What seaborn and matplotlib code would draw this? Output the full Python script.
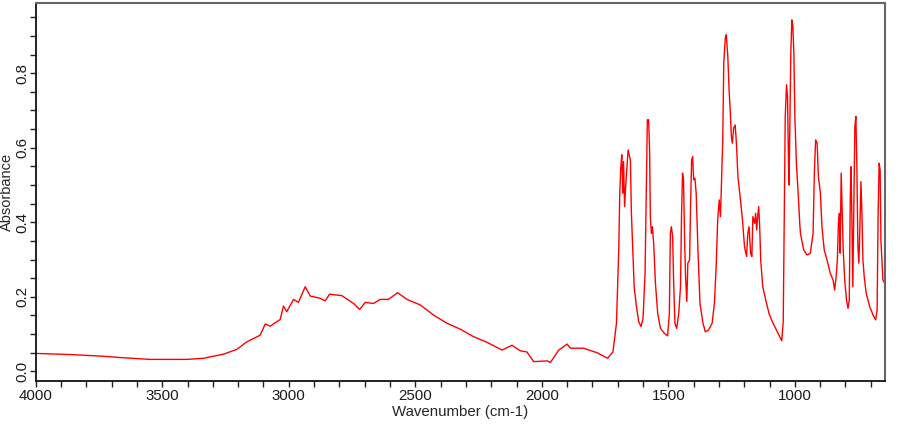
import pandas as pd
import seaborn as sns
import matplotlib.pyplot as plt
from matplotlib.ticker import MultipleLocator

# IR spectrum
wavenumber = [
    4000, 3864, 3746, 3667, 3548, 3403, 3337, 3258, 3205, 3166, 3113, 3093, 3074, 3034,
    3021, 3008, 2981, 2962, 2935, 2915, 2876, 2856, 2839, 2790, 2744, 2720, 2698, 2665,
    2639, 2606, 2570, 2533, 2480, 2428, 2375, 2322, 2270, 2217, 2157, 2118, 2085, 2059,
    2032, 1979, 1966, 1933, 1900, 1887, 1835, 1782, 1740, 1719, 1705, 1696, 1692, 1688,
    1684, 1680, 1677, 1673, 1667, 1659, 1650, 1646, 1641, 1635, 1626, 1617, 1608, 1600,
    1592, 1588, 1583, 1578, 1574, 1571, 1567, 1563, 1558, 1551, 1542, 1531, 1516, 1503,
    1496, 1492, 1488, 1483, 1479, 1474, 1467, 1459, 1452, 1448, 1444, 1440, 1436, 1432,
    1427, 1423, 1416, 1412, 1408, 1404, 1400, 1395, 1390, 1383, 1375, 1363, 1354, 1341,
    1327, 1318, 1311, 1305, 1299, 1294, 1290, 1285, 1281, 1275, 1271, 1265, 1260, 1255,
    1251, 1247, 1242, 1236, 1231, 1225, 1215, 1207, 1199, 1191, 1186, 1181, 1175, 1170,
    1166, 1159, 1155, 1151, 1147, 1143, 1139, 1135, 1127, 1115, 1102, 1089, 1076, 1063,
    1052, 1046, 1042, 1038, 1033, 1029, 1025, 1023, 1020, 1016, 1012, 1008, 1004, 1000,
    994, 987, 981, 978, 965, 952, 939, 928, 923, 918, 912, 907, 899, 893,
    884, 873, 860, 849, 843, 837, 832, 828, 824, 821, 817, 813, 809, 803,
    796, 790, 785, 781, 778, 775, 771, 767, 763, 759, 755, 751, 747, 743,
    739, 735, 731, 726, 718, 704, 691, 681, 675, 671, 667, 663, 660, 652, 645,
]
absorbance = [
    0.048, 0.045, 0.041, 0.037, 0.032, 0.032, 0.035, 0.046, 0.059, 0.079, 0.097, 0.127, 0.121, 0.139,
    0.175, 0.160, 0.193, 0.185, 0.227, 0.202, 0.196, 0.189, 0.207, 0.203, 0.182, 0.166, 0.185, 0.182,
    0.193, 0.193, 0.211, 0.193, 0.178, 0.151, 0.129, 0.113, 0.093, 0.078, 0.057, 0.070, 0.055, 0.052,
    0.026, 0.028, 0.024, 0.057, 0.073, 0.062, 0.062, 0.050, 0.035, 0.052, 0.129, 0.326, 0.478, 0.545,
    0.581, 0.478, 0.563, 0.442, 0.514, 0.594, 0.567, 0.424, 0.334, 0.227, 0.173, 0.133, 0.120, 0.142,
    0.263, 0.442, 0.675, 0.675, 0.590, 0.411, 0.370, 0.388, 0.344, 0.236, 0.155, 0.115, 0.102, 0.095,
    0.155, 0.370, 0.388, 0.361, 0.236, 0.129, 0.115, 0.155, 0.227, 0.415, 0.532, 0.514, 0.361, 0.254,
    0.187, 0.290, 0.299, 0.451, 0.567, 0.576, 0.514, 0.518, 0.478, 0.326, 0.182, 0.129, 0.106, 0.111,
    0.129, 0.182, 0.281, 0.406, 0.460, 0.415, 0.505, 0.621, 0.827, 0.894, 0.903, 0.845, 0.755, 0.693,
    0.630, 0.612, 0.652, 0.661, 0.612, 0.522, 0.460, 0.406, 0.334, 0.308, 0.370, 0.388, 0.317, 0.308,
    0.415, 0.397, 0.424, 0.379, 0.415, 0.442, 0.388, 0.299, 0.227, 0.191, 0.155, 0.133, 0.115, 0.097,
    0.082, 0.133, 0.397, 0.684, 0.769, 0.737, 0.549, 0.500, 0.648, 0.854, 0.943, 0.925, 0.854, 0.684,
    0.558, 0.478, 0.400, 0.370, 0.326, 0.312, 0.317, 0.370, 0.532, 0.621, 0.612, 0.522, 0.478, 0.388,
    0.326, 0.299, 0.263, 0.245, 0.218, 0.254, 0.299, 0.397, 0.424, 0.317, 0.532, 0.424, 0.326, 0.245,
    0.191, 0.169, 0.191, 0.469, 0.549, 0.424, 0.227, 0.433, 0.657, 0.684, 0.549, 0.334, 0.290, 0.388,
    0.509, 0.424, 0.299, 0.254, 0.209, 0.173, 0.151, 0.138, 0.164, 0.424, 0.558, 0.540, 0.352, 0.245, 0.236,
]

df = pd.DataFrame({"Wavenumber": wavenumber, "Absorbance": absorbance})

sns.set_style("ticks")
plt.rcParams["font.family"] = ["Liberation Sans", "DejaVu Sans"]

fig, ax = plt.subplots(figsize=(9, 4.25), dpi=100)
fig.subplots_adjust(left=0.0397, right=0.983, top=0.9936, bottom=0.1035)

sns.lineplot(data=df, x="Wavenumber", y="Absorbance", sort=False, estimator=None,
             color="#ff0000", linewidth=1.0, ax=ax)

ax.set_xlim(4000, 645)
ax.set_ylim(-0.026, 0.989)
ax.xaxis.set_major_locator(MultipleLocator(500))
ax.xaxis.set_minor_locator(MultipleLocator(100))
ax.yaxis.set_major_locator(MultipleLocator(0.2))
ax.yaxis.set_minor_locator(MultipleLocator(0.05))
ax.yaxis.set_major_formatter(plt.FuncFormatter(lambda v, p: f"{v:.1f}"))

ax.tick_params(axis="both", which="both", direction="out", length=4.5, width=1.0,
               color="#222222", labelsize=10.8, labelcolor="#1a1a1a", pad=1.5)
ax.tick_params(axis="y", pad=0.3)
plt.setp(ax.get_yticklabels(), rotation=90, va="center", ha="right")

ax.set_xlabel("Wavenumber (cm-1)", fontsize=10.8, labelpad=1)
ax.set_ylabel("Absorbance", fontsize=10.5)
ax.yaxis.set_label_coords(-0.0262, 0.5)

for side in ["left", "bottom"]:
    ax.spines[side].set_color("#111111")
    ax.spines[side].set_linewidth(1.3)
for side in ["top", "right"]:
    ax.spines[side].set_visible(True)
    ax.spines[side].set_color("#666666")
    ax.spines[side].set_linewidth(1.5)

plt.savefig("out.png", dpi=100)
